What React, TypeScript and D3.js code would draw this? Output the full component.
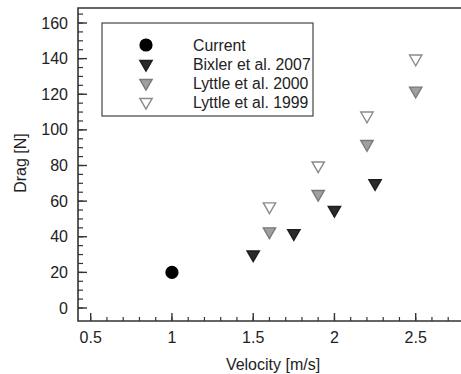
import React from "react";
import * as d3 from "d3";

const currentV = [1.0];
const currentD = [20];
const bixlerV = [1.5, 1.75, 2.0, 2.25];
const bixlerD = [30, 42, 55, 70];
const lyttle2000V = [1.6, 1.9, 2.2, 2.5];
const lyttle2000D = [43, 64, 92, 122];
const lyttle1999V = [1.6, 1.9, 2.2, 2.5];
const lyttle1999D = [57, 80, 108, 140];
const xTicks = [0.5, 1, 1.5, 2, 2.5];
const yTicks = [0, 20, 40, 60, 80, 100, 120, 140, 160];
const legendLabels = ["Current", "Bixler et al. 2007", "Lyttle et al. 2000", "Lyttle et al. 1999"];

const W = 461, H = 374;
const L = 78, T = 8, B = 321;
const x = d3.scaleLinear().domain([0.5, 2.5]).range([90.7, 415.7]);
const y = d3.scaleLinear().domain([0, 160]).range([308, 23]);
const xMax = x.invert(W + 5);
const R = x(xMax);

const tri = d3.symbol().type(d3.symbolTriangle).size(66);
const FONT = "'Liberation Sans', Arial, Helvetica, sans-serif";

function Tri({ cx, cy, fill, stroke }: { cx: number; cy: number; fill: string; stroke: string }) {
  return (
    <path
      d={tri() as string}
      transform={`translate(${cx},${cy}) rotate(180)`}
      fill={fill}
      stroke={stroke}
      strokeWidth={1.4}
    />
  );
}

const styles = [
  { fill: "#2b2b2b", stroke: "#1e1e1e" },
  { fill: "#a0a0a0", stroke: "#7a7a7a" },
  { fill: "#ffffff", stroke: "#8a8a8a" },
];

export default function App() {
  const xMinor = d3.range(0.5, xMax, 0.1).filter((v) => x(v) > L + 1);
  const yMinor = d3.range(0, 166, 5).filter((v) => y(v) > T + 1 && y(v) < B - 1);
  const series = [
    { v: bixlerV, d: bixlerD, s: styles[0] },
    { v: lyttle2000V, d: lyttle2000D, s: styles[1] },
    { v: lyttle1999V, d: lyttle1999D, s: styles[2] },
  ];
  const legendRows = [45, 64, 83, 102];
  return (
    <svg width={W} height={H} style={{ position: "absolute", left: 0, top: 0, background: "#fff" }} fontFamily={FONT}>
      <rect x={0} y={0} width={W} height={H} fill="#fff" />
      {xMinor.map((v, i) => (
        <line key={"xm" + i} x1={x(v)} x2={x(v)} y1={B} y2={B - 4} stroke="#333" strokeWidth={1.2} />
      ))}
      {xTicks.map((v) => (
        <line key={"xM" + v} x1={x(v)} x2={x(v)} y1={B} y2={B - 8} stroke="#333" strokeWidth={1.4} />
      ))}
      {yMinor.map((v, i) => (
        <line key={"ym" + i} x1={L} x2={L + 5} y1={y(v)} y2={y(v)} stroke="#333" strokeWidth={1.2} />
      ))}
      {yTicks.map((v) => (
        <line key={"yM" + v} x1={L} x2={L + 9} y1={y(v)} y2={y(v)} stroke="#333" strokeWidth={1.4} />
      ))}
      <path d={`M${R},${T}H${L}V${B}H${R}`} fill="none" stroke="#333" strokeWidth={1.6} />
      {xTicks.map((v) => (
        <text key={"xl" + v} x={x(v)} y={343} textAnchor="middle" fontSize={16} fill="#222">
          {String(v)}
        </text>
      ))}
      {yTicks.map((v) => (
        <text key={"yl" + v} x={68} y={y(v) + 5.5} textAnchor="end" fontSize={16} fill="#222">
          {String(v)}
        </text>
      ))}
      <text x={273} y={370} textAnchor="middle" fontSize={16} fill="#222">Velocity [m/s]</text>
      <text transform={`translate(26,163) rotate(-90)`} textAnchor="middle" fontSize={16} fill="#222">Drag [N]</text>
      {currentV.map((v, i) => (
        <circle key={"c" + i} cx={x(v)} cy={y(currentD[i])} r={6.6} fill="#000" />
      ))}
      {series.map((se, si) =>
        se.v.map((v, i) => (
          <Tri key={si + "-" + i} cx={x(v)} cy={y(se.d[i])} fill={se.s.fill} stroke={se.s.stroke} />
        ))
      )}
      <rect x={102} y={23} width={211} height={93} fill="#fff" stroke="#444" strokeWidth={1.2} />
      <circle cx={146} cy={legendRows[0]} r={6.6} fill="#000" />
      {styles.map((s, i) => (
        <Tri key={"lg" + i} cx={146} cy={legendRows[i + 1]} fill={s.fill} stroke={s.stroke} />
      ))}
      {legendLabels.map((t, i) => (
        <text key={"lt" + i} x={193} y={legendRows[i] + 5.5} fontSize={15.8} fill="#222">
          {t}
        </text>
      ))}
    </svg>
  );
}
